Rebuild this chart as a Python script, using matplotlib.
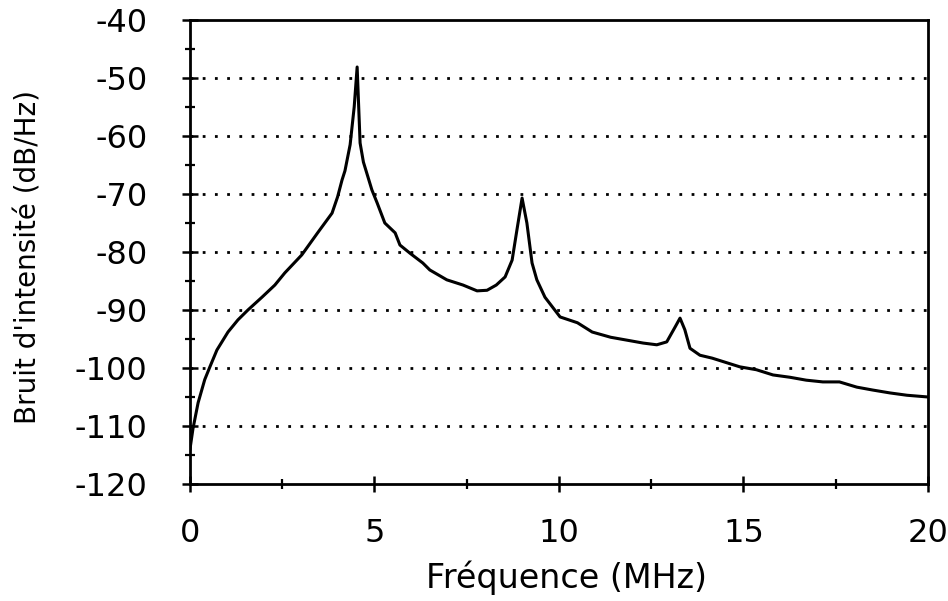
import matplotlib.pyplot as plt
from matplotlib.ticker import MultipleLocator

# Values
freq = [0.0, 0.08, 0.22, 0.4, 0.54, 0.73, 1.03, 1.3, 1.57, 1.95, 2.3, 2.57,
        3.03, 3.47, 3.85, 4.0, 4.12, 4.2, 4.34, 4.45, 4.53, 4.61, 4.7, 4.82,
        4.93, 5.07, 5.28, 5.56, 5.69, 5.96, 6.31, 6.5, 6.96, 7.4, 7.78, 8.05,
        8.3, 8.54, 8.73, 8.86, 9.0, 9.13, 9.27, 9.4, 9.62, 10.03, 10.5, 10.9,
        11.4, 11.84, 12.28, 12.65, 12.92, 13.15, 13.28, 13.41, 13.55, 13.82,
        14.15, 14.9, 15.35, 15.8, 16.26, 16.7, 17.15, 17.6, 18.07, 18.5,
        18.97, 19.43, 20.0]
bruit = [-114, -110.5, -106, -102, -99.8, -96.9, -93.8, -91.7, -90, -87.8,
         -85.7, -83.6, -80.5, -76.6, -73.3, -70.5, -67.6, -66, -61.5, -55,
         -48.1, -61.2, -64.5, -67, -69.3, -71.5, -75, -76.7, -78.8, -80.2,
         -81.9, -83.1, -84.8, -85.7, -86.7, -86.6, -85.7, -84.3, -81.4, -76.2,
         -70.7, -75, -81.9, -84.8, -87.8, -91.2, -92.2, -93.8, -94.7, -95.2,
         -95.7, -96, -95.5, -92.9, -91.4, -93.4, -96.6, -97.8, -98.3, -99.8,
         -100.3, -101.2, -101.6, -102.1, -102.4, -102.4, -103.3, -103.8,
         -104.3, -104.7, -105]

grid_levels = [-50, -60, -70, -80, -90, -100, -110]

plt.rcParams['font.family'] = ['DejaVu Sans']
plt.rcParams['axes.unicode_minus'] = False

fig = plt.figure(figsize=(9.48, 6.01), dpi=100)
ax = fig.add_axes([0.2004, 0.1947, 0.7785, 0.772])

for lev in grid_levels:
    ax.axhline(lev, color='black', lw=2.0, linestyle=(0, (1, 3.4)), zorder=1)

ax.plot(freq, bruit, color='black', lw=2.2, zorder=3)

ax.set_xlim(0, 20)
ax.set_ylim(-120, -40)
ax.xaxis.set_major_locator(MultipleLocator(5))
ax.xaxis.set_minor_locator(MultipleLocator(2.5))
ax.yaxis.set_major_locator(MultipleLocator(10))
ax.yaxis.set_minor_locator(MultipleLocator(5))

for s in ax.spines.values():
    s.set_linewidth(2.0)

ax.tick_params(which='major', direction='inout', length=11, width=1.8,
               labelsize=23, top=False, right=False)
ax.tick_params(which='minor', direction='inout', length=7, width=1.6,
               top=False, right=False)
ax.tick_params(axis='x', which='major', pad=19)
ax.tick_params(axis='y', which='major', pad=25)

ax.set_xlabel('Fréquence (MHz)', fontsize=24)
ax.set_ylabel("Bruit d'intensité (dB/Hz)", fontsize=20)
ax.xaxis.set_label_coords(0.51, -0.165)
ax.yaxis.set_label_coords(-0.2, 0.49)

fig.savefig('out.png', dpi=100)
